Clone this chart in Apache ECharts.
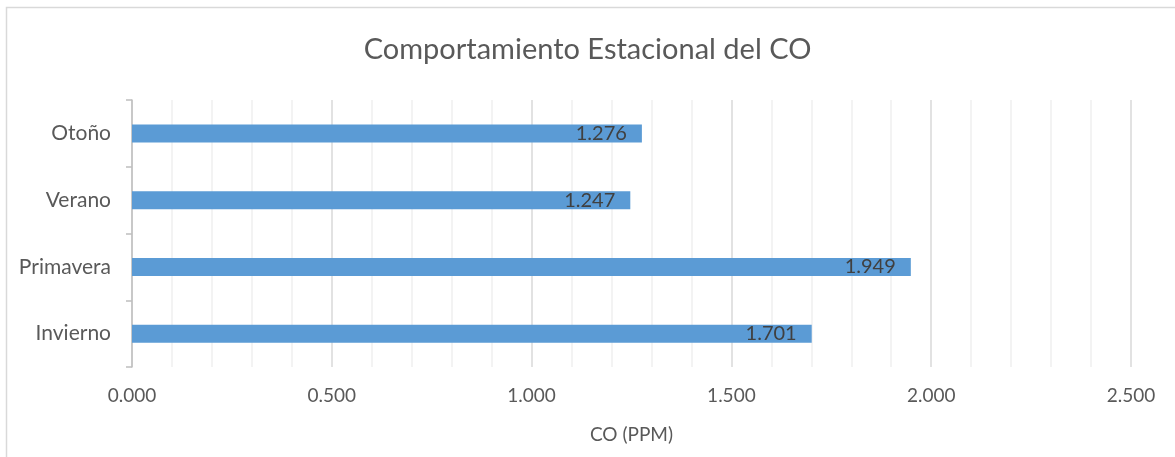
<!DOCTYPE html>
<html><head><meta charset="utf-8">
<script src="https://cdn.jsdelivr.net/npm/echarts@6/dist/echarts.min.js"></script>
<style>html,body{margin:0;padding:0;background:#fff}#c{width:1175px;height:457px}</style>
</head><body><div id="c"></div>
<script>
var categories = ['Invierno', 'Primavera', 'Verano', 'Otoño'];
var values = [1.701, 1.949, 1.247, 1.276];
var xTicks = [0, 0.5, 1.0, 1.5, 2.0, 2.5];
var titleText = 'Comportamiento Estacional del CO';
var xName = 'CO (PPM)';

var chart = echarts.init(document.getElementById('c'));
var font = 'Lato';
chart.setOption({
  animation: false,
  backgroundColor: '#fff',
  graphic: [{type: 'rect', shape: {x: 6.5, y: 7.5, width: 1200, height: 500}, style: {fill: 'none', stroke: '#d9d9d9', lineWidth: 1.5}, silent: true}],
  title: {text: titleText, left: 'center', top: 30, textStyle: {fontFamily: font, fontWeight: 'normal', fontSize: 29, color: '#595959'}},
  grid: {left: 132, right: 44, top: 100, bottom: 90},
  xAxis: {
    type: 'value', min: xTicks[0], max: xTicks[xTicks.length - 1], interval: 0.5,
    name: xName, nameLocation: 'middle', nameGap: 58,
    nameTextStyle: {fontFamily: font, fontSize: 19, color: '#595959'},
    axisLine: {show: false}, axisTick: {show: false},
    axisLabel: {fontFamily: font, fontSize: 19, color: '#595959', margin: 19, formatter: function (v) { return v.toFixed(3); }},
    splitLine: {show: true, lineStyle: {color: '#d9d9d9', width: 1.5}},
    minorTick: {show: false, splitNumber: 5},
    minorSplitLine: {show: true, lineStyle: {color: '#f0f0f0', width: 1.5}}
  },
  yAxis: {
    type: 'category', data: categories,
    axisLine: {show: true, lineStyle: {color: '#bfbfbf', width: 1.5}},
    axisTick: {show: true, length: 6, lineStyle: {color: '#bfbfbf', width: 1.5}},
    axisLabel: {fontFamily: font, fontSize: 21, color: '#595959', margin: 21}
  },
  series: [{
    type: 'bar', data: values, barWidth: 18,
    itemStyle: {color: '#5b9bd5'},
    label: {show: true, position: 'insideRight', distance: 15, fontFamily: font, fontSize: 20, color: '#404040', formatter: function (p) { return p.value.toFixed(3); }}
  }]
});
</script></body></html>
